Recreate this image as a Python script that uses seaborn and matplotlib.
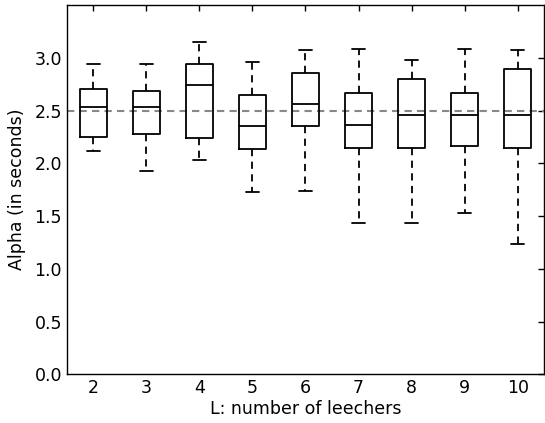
import numpy as np
import pandas as pd
import matplotlib
matplotlib.use("Agg")
import matplotlib.pyplot as plt
import seaborn as sns

# five-number summaries (min, q1, median, q3, max)
leechers = [2, 3, 4, 5, 6, 7, 8, 9, 10]
alpha_min = [2.12, 1.93, 2.03, 1.73, 1.74, 1.43, 1.43, 1.53, 1.24]
alpha_q1 = [2.25, 2.28, 2.24, 2.14, 2.35, 2.15, 2.15, 2.16, 2.15]
alpha_med = [2.53, 2.53, 2.74, 2.35, 2.56, 2.36, 2.46, 2.46, 2.46]
alpha_q3 = [2.70, 2.69, 2.94, 2.65, 2.86, 2.67, 2.80, 2.67, 2.89]
alpha_max = [2.94, 2.94, 3.15, 2.96, 3.07, 3.08, 2.98, 3.08, 3.07]
ref_alpha = 2.5
yticks = [0.0, 0.5, 1.0, 1.5, 2.0, 2.5, 3.0]

rows = []
for i, L in enumerate(leechers):
    for v in (alpha_min[i], alpha_q1[i], alpha_med[i], alpha_q3[i], alpha_max[i]):
        rows.append({"L": L, "alpha": v})
df = pd.DataFrame(rows)

sns.set_style("white")
plt.rcParams['font.family'] = ['DejaVu Sans']
plt.rcParams['xtick.direction'] = 'in'
plt.rcParams['ytick.direction'] = 'in'
plt.rcParams['text.color'] = 'black'
plt.rcParams['axes.labelcolor'] = 'black'
plt.rcParams['xtick.color'] = 'black'
plt.rcParams['ytick.color'] = 'black'

fig = plt.figure(figsize=(5.45, 4.23), dpi=100)
ax = fig.add_axes([0.1225, 0.115, 0.876, 0.873])

ax.axhline(ref_alpha, color='#888888', lw=1.5, ls=(0, (3.5, 2.5)), zorder=1)

sns.boxplot(data=df, x="L", y="alpha", native_scale=True, whis=(0, 100),
            width=0.5, fill=False, color='black', linewidth=1.3,
            whiskerprops={'linestyle': (0, (4, 3))},
            showfliers=False, ax=ax)

ax.set_xlim(1.5, 10.5)
ax.set_ylim(0, 3.5)
ax.set_xticks(leechers)
ax.set_yticks(yticks)
ax.set_yticklabels([f"{t:.1f}" for t in yticks])
ax.tick_params(axis='both', labelsize=12.5, top=True, right=True,
               length=4, width=1, color='black', labelcolor='black')
ax.set_xlabel("L: number of leechers", fontsize=12.5, labelpad=2)
ax.set_ylabel("Alpha (in seconds)", fontsize=12.5, labelpad=6)
for s in ax.spines.values():
    s.set_color('black')
    s.set_linewidth(1)

fig.savefig("out.png", dpi=100)
